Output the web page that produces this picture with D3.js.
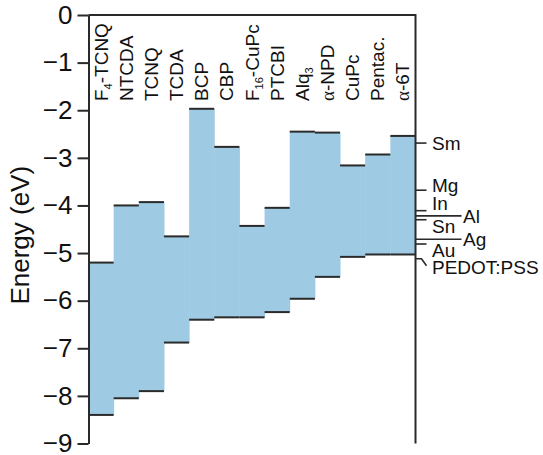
<!DOCTYPE html>
<html>
<head>
<meta charset="utf-8">
<script src="https://cdn.jsdelivr.net/npm/d3@7"></script>
<style>
  html, body { margin: 0; padding: 0; background: #fff; }
  svg { display: block; font-family: "Liberation Sans", Arial, sans-serif; }
</style>
</head>
<body>
<svg id="chart" width="543" height="455"></svg>
<script>
// Organic semiconductors: LUMO (top) and HOMO (bottom) levels, in eV.
// "{..}" marks a subscript in the label text.
const materials = ["F{4}-TCNQ", "NTCDA", "TCNQ", "TCDA", "BCP", "CBP", "F{16}-CuPc",
                   "PTCBI", "Alq{3}", "α-NPD", "CuPc", "Pentac.", "α-6T"];
const lumo = [-5.20, -4.00, -3.93, -4.65, -1.97, -2.77, -4.43, -4.05, -2.45, -2.47, -3.16, -2.93, -2.54];
const homo = [-8.40, -8.05, -7.90, -6.88, -6.40, -6.35, -6.35, -6.24, -5.96, -5.50, -5.08, -5.03, -5.03];

// Electrode work functions, in eV.
const electrodes = ["Sm", "Mg", "In", "Al", "Sn", "Ag", "Au", "PEDOT:PSS"];
const workFunctions = [-2.69, -3.68, -4.11, -4.22, -4.30, -4.71, -4.81, -5.12];

const yTicks = [0, -1, -2, -3, -4, -5, -6, -7, -8, -9];

// Marker and label style for each electrode (long leader line or short tick).
const electrodeStyle = {
  "Sm":        { mark: "short", lx: 432, base: 6.5 },
  "Mg":        { mark: "short", lx: 432, base: 1.5 },
  "In":        { mark: "short", lx: 432, base: -0.5 },
  "Al":        { mark: "long",  lx: 463, base: 7 },
  "Sn":        { mark: "short", lx: 432, base: 13 },
  "Ag":        { mark: "long",  lx: 463, base: 7 },
  "Au":        { mark: "short", lx: 432, base: 12.5 },
  "PEDOT:PSS": { mark: "bent",  lx: 432, base: 15 }
};

const ink = "#2a2a2a";
const fill = "#9ecbe3";

const svg = d3.select("#chart");
const plotL = 88.5, plotR = 415.5, plotT = 15, plotB = 443.5;

const x = d3.scaleBand().domain(materials).range([plotL, plotR]).padding(0);
const y = d3.scaleLinear().domain([0, -9]).range([plotT, plotB]);

// Gap between LUMO and HOMO for each material
const cols = materials.map((m, i) => ({ m, lumo: lumo[i], homo: homo[i] }));

svg.append("g").selectAll("rect")
  .data(cols).join("rect")
  .attr("x", d => x(d.m))
  .attr("width", x.bandwidth() + 0.5)
  .attr("y", d => y(d.lumo))
  .attr("height", d => y(d.homo) - y(d.lumo))
  .attr("fill", fill);

// Level lines
const levels = svg.append("g").attr("stroke", ink).attr("stroke-width", 2);
cols.forEach(d => {
  [d.lumo, d.homo].forEach(v => {
    levels.append("line")
      .attr("x1", x(d.m)).attr("x2", x(d.m) + x.bandwidth())
      .attr("y1", y(v)).attr("y2", y(v));
  });
});

// Left axis
const yAxis = d3.axisLeft(y).tickValues(yTicks).tickSize(11).tickSizeOuter(0).tickPadding(5);
const gy = svg.append("g").attr("transform", `translate(${plotL},0)`).call(yAxis);
gy.selectAll("path, line").attr("stroke", ink).attr("stroke-width", 2);
gy.selectAll("text").attr("font-size", 26).attr("fill", "#111")
  .attr("font-family", "Liberation Sans, Arial, sans-serif");

// Top and right frame
svg.append("path")
  .attr("d", `M${plotL},${plotT}H${plotR}V${plotB}`)
  .attr("fill", "none").attr("stroke", ink).attr("stroke-width", 2);

// Axis title
svg.append("text")
  .attr("transform", `translate(29,${(plotT + plotB) / 2 + 6}) rotate(-90)`)
  .attr("text-anchor", "middle")
  .attr("font-size", 26)
  .attr("fill", "#111")
  .text("Energy (eV)");

// Material names, vertical, with subscripts and Greek alpha
const labels = svg.append("g");
materials.forEach(name => {
  const cx = x(name) + x.bandwidth() / 2 + 6.5;
  const t = labels.append("text")
    .attr("transform", `translate(${cx},101) rotate(-90)`)
    .attr("font-size", 19)
    .attr("fill", "#111");
  const parts = name.split(/(\{[^}]*\}|α)/).filter(s => s.length);
  let shifted = false;
  parts.forEach(p => {
    if (p.startsWith("{")) {
      t.append("tspan").attr("font-size", 11).attr("dy", 4).text(p.slice(1, -1));
      shifted = true;
    } else if (p === "α") {
      t.append("tspan").attr("font-family", "Liberation Serif, serif")
        .attr("font-size", 19).attr("dy", shifted ? -4 : 0).text(p);
      shifted = false;
    } else {
      t.append("tspan").attr("dy", shifted ? -4 : 0).text(p);
      shifted = false;
    }
  });
});

// Electrode work functions on the right
const el = svg.append("g");
electrodes.forEach((name, i) => {
  const v = workFunctions[i];
  const st = electrodeStyle[name];
  const yy = y(v);
  let d;
  if (st.mark === "long") d = `M${plotR},${yy}H${plotR + 46}`;
  else if (st.mark === "bent") d = `M${plotR},${yy}H${plotR + 6}L${plotR + 11},${yy + 7}`;
  else d = `M${plotR},${yy}H${plotR + 11}`;
  el.append("path").attr("d", d).attr("fill", "none")
    .attr("stroke", ink).attr("stroke-width", 1.6);
  el.append("text")
    .attr("x", st.lx).attr("y", yy + st.base)
    .attr("font-size", 19).attr("fill", "#111")
    .text(name);
});
</script>
</body>
</html>
